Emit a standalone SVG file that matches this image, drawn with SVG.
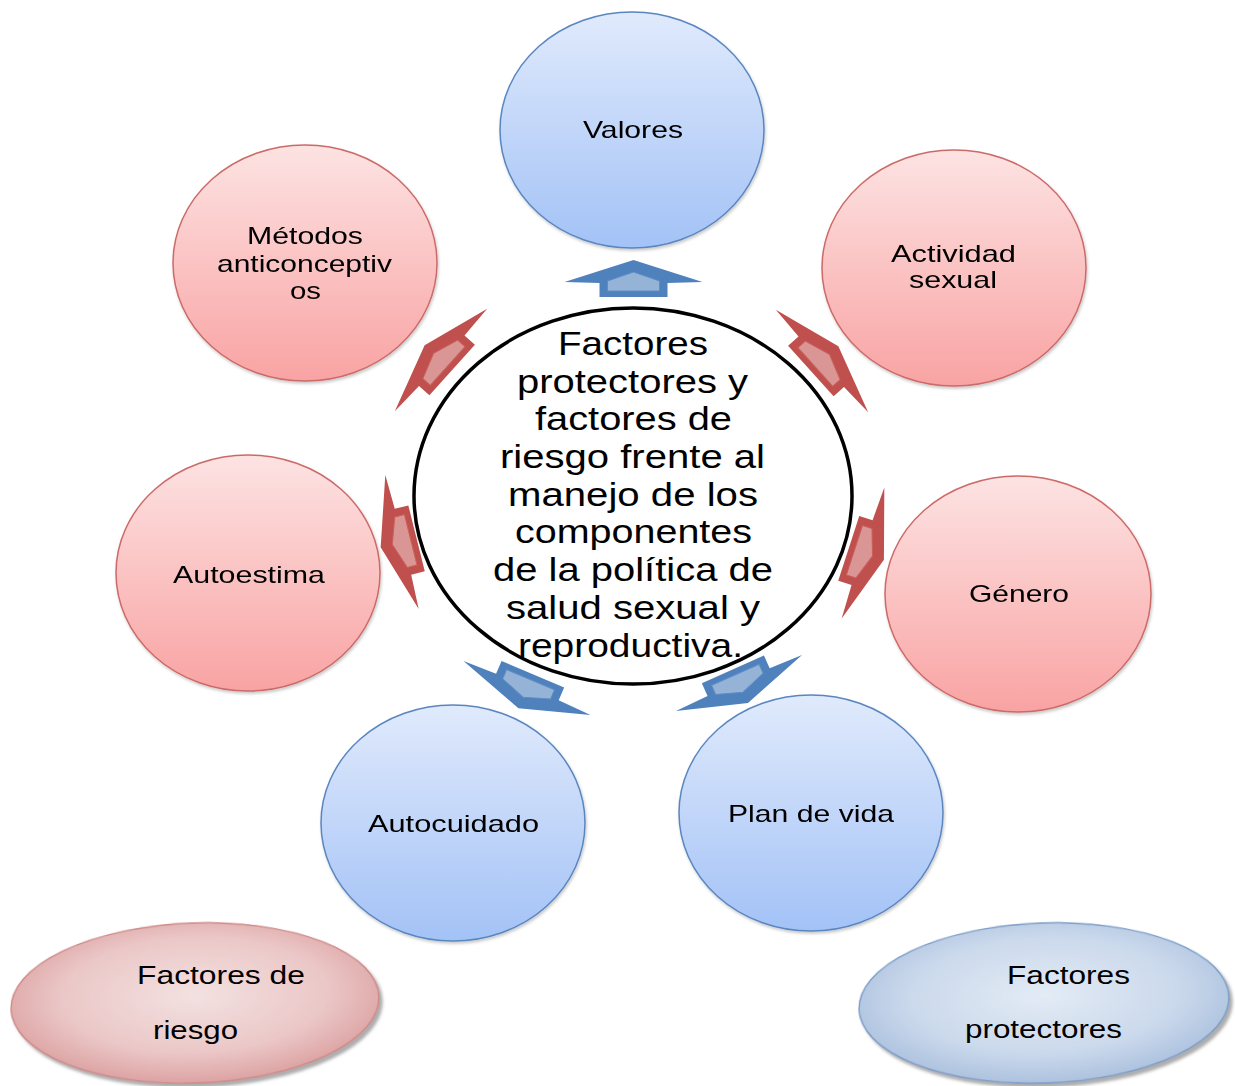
<svg xmlns="http://www.w3.org/2000/svg" width="1235" height="1086" viewBox="0 0 1235 1086">
<style>
  text { font-family: "Liberation Sans", Arial, sans-serif; fill: #000; }
  .node { font-size: 24px; }
  .center { font-size: 33px; }
  .legend { font-size: 25px; }
  .red { fill: url(#gRed); stroke: #cc6a68; stroke-width: 1.5; }
  .blue { fill: url(#gBlue); stroke: #5a86c0; stroke-width: 1.5; }
  .oR { fill: #c0504d; }
  .iR { fill: #d99694; stroke: #c95f5c; stroke-width: 1; }
  .oB { fill: #4f81bd; }
  .iB { fill: #95b3d7; stroke: #5f8cc4; stroke-width: 1; }
</style>
<defs>
  <linearGradient id="gRed" x1="0" y1="0" x2="0" y2="1">
    <stop offset="0" stop-color="#fde3e3"/>
    <stop offset="1" stop-color="#f9a3a3"/>
  </linearGradient>
  <linearGradient id="gBlue" x1="0" y1="0" x2="0" y2="1">
    <stop offset="0" stop-color="#e0eafc"/>
    <stop offset="1" stop-color="#a3c2f6"/>
  </linearGradient>
  <radialGradient id="gLegR" cx="0.5" cy="0.45" r="0.6">
    <stop offset="0" stop-color="#f3e1e1"/>
    <stop offset="0.6" stop-color="#ebc7c7"/>
    <stop offset="1" stop-color="#d99999"/>
  </radialGradient>
  <radialGradient id="gLegB" cx="0.5" cy="0.45" r="0.6">
    <stop offset="0" stop-color="#e3ebf5"/>
    <stop offset="0.6" stop-color="#cbd9ec"/>
    <stop offset="1" stop-color="#a5bcdb"/>
  </radialGradient>
  <filter id="sh" x="-10%" y="-10%" width="120%" height="125%">
    <feDropShadow dx="1" dy="2" stdDeviation="1.5" flood-color="#000" flood-opacity="0.22"/>
  </filter>
  <filter id="shL" x="-10%" y="-10%" width="125%" height="130%">
    <feDropShadow dx="3" dy="4" stdDeviation="1.5" flood-color="#777" flood-opacity="0.6"/>
  </filter>
  <g id="arrowR">
    <polygon class="oR" points="0,-22 69,0 34,1 34,15 -34,15 -34,1 -69,0"/>
    <polygon class="iR" points="0,-10 26,-1 26,9 -26,9 -26,-1"/>
  </g>
  <g id="arrowB">
    <polygon class="oB" points="0,-22 69,0 34,1 34,15 -34,15 -34,1 -69,0"/>
    <polygon class="iB" points="0,-10 26,-1 26,9 -26,9 -26,-1"/>
  </g>
</defs>

<g id="connectors">
  <use href="#arrowB" transform="translate(633.5,282)"/>
  <use href="#arrowR" transform="translate(441,360) rotate(-48)"/>
  <use href="#arrowR" transform="translate(822,361) rotate(48)"/>
  <use href="#arrowR" transform="translate(402,542) rotate(-104)"/>
  <use href="#arrowR" transform="translate(863,553) rotate(108)"/>
  <use href="#arrowB" transform="translate(527,688) rotate(-157)"/>
  <use href="#arrowB" transform="translate(739,683) rotate(156)"/>
</g>

<g id="valores" filter="url(#sh)">
  <ellipse class="blue" cx="632" cy="130" rx="132" ry="118"/>
  <text class="node" x="633" y="138" text-anchor="middle" textLength="100" lengthAdjust="spacingAndGlyphs">Valores</text>
</g>

<g id="metodos" filter="url(#sh)">
  <ellipse class="red" cx="305" cy="263" rx="132" ry="118"/>
  <text class="node" x="305" y="244" text-anchor="middle" textLength="116" lengthAdjust="spacingAndGlyphs">Métodos</text>
  <text class="node" x="304.5" y="272" text-anchor="middle" textLength="175" lengthAdjust="spacingAndGlyphs">anticonceptiv</text>
  <text class="node" x="305.5" y="299" text-anchor="middle" textLength="31" lengthAdjust="spacingAndGlyphs">os</text>
</g>

<g id="actividad" filter="url(#sh)">
  <ellipse class="red" cx="954" cy="268" rx="132" ry="118"/>
  <text class="node" x="953.5" y="262" text-anchor="middle" textLength="125" lengthAdjust="spacingAndGlyphs">Actividad</text>
  <text class="node" x="953" y="288" text-anchor="middle" textLength="88" lengthAdjust="spacingAndGlyphs">sexual</text>
</g>

<g id="autoestima" filter="url(#sh)">
  <ellipse class="red" cx="248" cy="573" rx="132" ry="118"/>
  <text class="node" x="249" y="583" text-anchor="middle" textLength="152" lengthAdjust="spacingAndGlyphs">Autoestima</text>
</g>

<g id="genero" filter="url(#sh)">
  <ellipse class="red" cx="1018" cy="594" rx="133" ry="118"/>
  <text class="node" x="1019" y="602" text-anchor="middle" textLength="100" lengthAdjust="spacingAndGlyphs">Género</text>
</g>

<g id="autocuidado" filter="url(#sh)">
  <ellipse class="blue" cx="453" cy="823" rx="132" ry="118"/>
  <text class="node" x="453.5" y="832" text-anchor="middle" textLength="171" lengthAdjust="spacingAndGlyphs">Autocuidado</text>
</g>

<g id="plandevida" filter="url(#sh)">
  <ellipse class="blue" cx="811" cy="813" rx="132" ry="118"/>
  <text class="node" x="811" y="822" text-anchor="middle" textLength="166" lengthAdjust="spacingAndGlyphs">Plan de vida</text>
</g>

<g id="centro">
  <ellipse cx="633" cy="496" rx="219" ry="188" fill="#fff" stroke="#000" stroke-width="3.5"/>
  <text class="center" x="633" y="355" text-anchor="middle" textLength="150" lengthAdjust="spacingAndGlyphs">Factores</text>
  <text class="center" x="632.5" y="393" text-anchor="middle" textLength="231" lengthAdjust="spacingAndGlyphs">protectores y</text>
  <text class="center" x="633.5" y="430" text-anchor="middle" textLength="197" lengthAdjust="spacingAndGlyphs">factores de</text>
  <text class="center" x="632.5" y="468" text-anchor="middle" textLength="265" lengthAdjust="spacingAndGlyphs">riesgo frente al</text>
  <text class="center" x="633" y="506" text-anchor="middle" textLength="250" lengthAdjust="spacingAndGlyphs">manejo de los</text>
  <text class="center" x="633.5" y="543" text-anchor="middle" textLength="237" lengthAdjust="spacingAndGlyphs">componentes</text>
  <text class="center" x="633" y="581" text-anchor="middle" textLength="280" lengthAdjust="spacingAndGlyphs">de la política de</text>
  <text class="center" x="633" y="619" text-anchor="middle" textLength="254" lengthAdjust="spacingAndGlyphs">salud sexual y</text>
  <text class="center" x="630.5" y="657" text-anchor="middle" textLength="225" lengthAdjust="spacingAndGlyphs">reproductiva.</text>
</g>

<g id="leyenda-riesgo">
  <ellipse cx="195" cy="1003" rx="184" ry="80" fill="url(#gLegR)" stroke="#cf8a8a" stroke-width="1.5" filter="url(#shL)" transform="rotate(-2 195 1003)"/>
  <text class="legend" x="221" y="984" text-anchor="middle" textLength="168" lengthAdjust="spacingAndGlyphs">Factores de</text>
  <text class="legend" x="195.5" y="1039" text-anchor="middle" textLength="85" lengthAdjust="spacingAndGlyphs">riesgo</text>
</g>

<g id="leyenda-protectores">
  <ellipse cx="1044" cy="1003" rx="185" ry="80" fill="url(#gLegB)" stroke="#7d9dc8" stroke-width="1.5" filter="url(#shL)" transform="rotate(-2 1044 1003)"/>
  <text class="legend" x="1068.5" y="984" text-anchor="middle" textLength="123" lengthAdjust="spacingAndGlyphs">Factores</text>
  <text class="legend" x="1043.5" y="1038" text-anchor="middle" textLength="157" lengthAdjust="spacingAndGlyphs">protectores</text>
</g>
</svg>
